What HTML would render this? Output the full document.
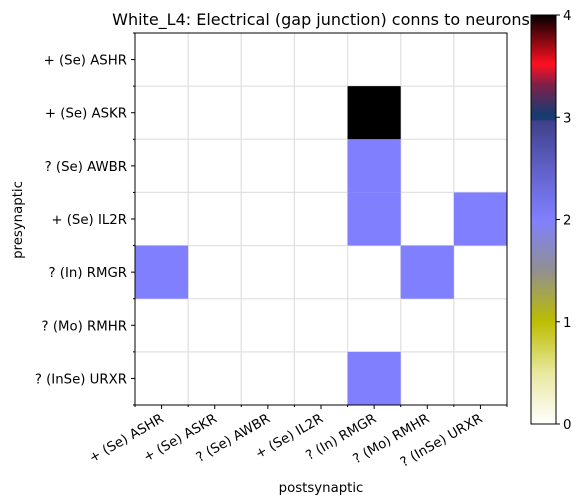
<!DOCTYPE html>
<html><head><meta charset="utf-8"><style>
body{margin:0;background:#fff;}
svg{display:block;font-family:"DejaVu Sans","Liberation Sans",sans-serif;}
</style></head><body>
<svg id="chart" width="579" height="504">
<defs>
<linearGradient id="cmap" x1="0" y1="1" x2="0" y2="0">
<stop offset="0" stop-color="#ffffff"/>
<stop offset="0.125" stop-color="#e8e8a0"/>
<stop offset="0.25" stop-color="#bdbd00"/>
<stop offset="0.375" stop-color="#909090"/>
<stop offset="0.5" stop-color="#8080ff"/>
<stop offset="0.625" stop-color="#6060c8"/>
<stop offset="0.74" stop-color="#40408a"/>
<stop offset="0.745" stop-color="#1a3a70"/>
<stop offset="0.76" stop-color="#1a3a70"/>
<stop offset="0.83" stop-color="#802048"/>
<stop offset="0.88" stop-color="#ff1020"/>
<stop offset="1" stop-color="#000000"/>
</linearGradient>
</defs>
<g id="plot"></g>
</svg>
<script>
const labels = ["+ (Se) ASHR","+ (Se) ASKR","? (Se) AWBR","+ (Se) IL2R","? (In) RMGR","? (Mo) RMHR","? (InSe) URXR"];
const cellRows = [1,2,3,3,4,4,6];
const cellCols = [4,4,4,6,0,5,4];
const cellValues = [4,2,2,2,2,2,2];
const cbTicks = [0,1,2,3,4];

const NS="http://www.w3.org/2000/svg";
const g=document.getElementById('plot');
const L=135,R=507,T=33,B=405,n=labels.length,cw=(R-L)/n,ch=(B-T)/n;
const xs=i=>L+i*cw, ys=i=>T+i*ch;
function mk(t,a,p){const e=document.createElementNS(NS,t);for(const k in a)e.setAttribute(k,a[k]);(p||g).appendChild(e);return e;}
function color(v){
  const stops=[[0,[255,255,255]],[0.5,[232,232,160]],[1,[189,189,0]],[1.5,[144,144,144]],[2,[128,128,255]],[2.5,[96,96,200]],[2.96,[64,64,138]],[2.98,[26,58,112]],[3.04,[26,58,112]],[3.32,[128,32,72]],[3.52,[255,16,32]],[4,[0,0,0]]];
  for(let i=1;i<stops.length;i++){if(v<=stops[i][0]){const[a,ca]=stops[i-1],[b,cb]=stops[i];const t=(v-a)/(b-a);return 'rgb('+ca.map((c,j)=>Math.round(c+(cb[j]-c)*t)).join(',')+')';}}
  return '#000';
}
for(let i=1;i<n;i++){
  let e=mk('line',{x1:xs(i),x2:xs(i),y1:T,y2:B,stroke:'#e2e2e2','stroke-width':1.3});
  
  
  e=mk('line',{x1:L,x2:R,y1:ys(i),y2:ys(i),stroke:'#e2e2e2','stroke-width':1.3});
  
  
}
cellValues.forEach((v,k)=>{
  const e=mk('rect',{x:xs(cellCols[k]),y:ys(cellRows[k]),width:cw,height:ch,fill:color(v)});
  
  
});
let fr=mk('rect',{x:L,y:T,width:R-L,height:B-T,fill:'none',stroke:'#000','stroke-width':1});


labels.forEach((lab,i)=>{
  const cx=xs(i)+cw/2, cy=ys(i)+ch/2;
  mk('line',{x1:cx,x2:cx,y1:B,y2:B+4,stroke:'#000'});
  mk('line',{x1:L,x2:L-4,y1:cy,y2:cy,stroke:'#000'});
  let t=mk('text',{x:cx+3,y:B+16,'font-size':13.3,'text-anchor':'end',transform:`rotate(-30 ${cx+3} ${B+16})`});
  t.textContent=lab;
  
  
  t=mk('text',{x:L-8,y:cy+5,'font-size':13.3,'text-anchor':'end'});
  t.textContent=lab;
  
  
});
for(let i=0;i<=n;i++){
  mk('line',{x1:xs(i),x2:xs(i),y1:B,y2:B+2,stroke:'#000'});
  mk('line',{x1:L,x2:L-2,y1:ys(i),y2:ys(i),stroke:'#000'});
}
let t=mk('text',{x:321,y:25,'font-size':16,'text-anchor':'middle'});
t.textContent='White_L4: Electrical (gap junction) conns to neurons';


t=mk('text',{x:321,y:492,'font-size':13.3,'text-anchor':'middle'});
t.textContent='postsynaptic';


t=mk('text',{x:22,y:220,'font-size':13.3,'text-anchor':'middle',transform:'rotate(-90 22 220)'});
t.textContent='presynaptic';


const cbL=531,cbW=25,cbT=15,cbB=424,vmax=4;
const cy=v=>cbB-(v/vmax)*(cbB-cbT);
mk('rect',{x:cbL-1,y:cbT-1,width:cbW+2,height:cbB-cbT+2,fill:'#fff'});
let cb=mk('rect',{x:cbL,y:cbT,width:cbW,height:cbB-cbT,fill:'url(#cmap)',stroke:'#000','stroke-width':1});


cbTicks.forEach(v=>{
  mk('line',{x1:cbL+cbW,x2:cbL+cbW+4,y1:cy(v),y2:cy(v),stroke:'#000'});
  const e=mk('text',{x:cbL+cbW+7,y:cy(v)+5,'font-size':13.3});
  e.textContent=v;
  
  
});
</script>
</body></html>
